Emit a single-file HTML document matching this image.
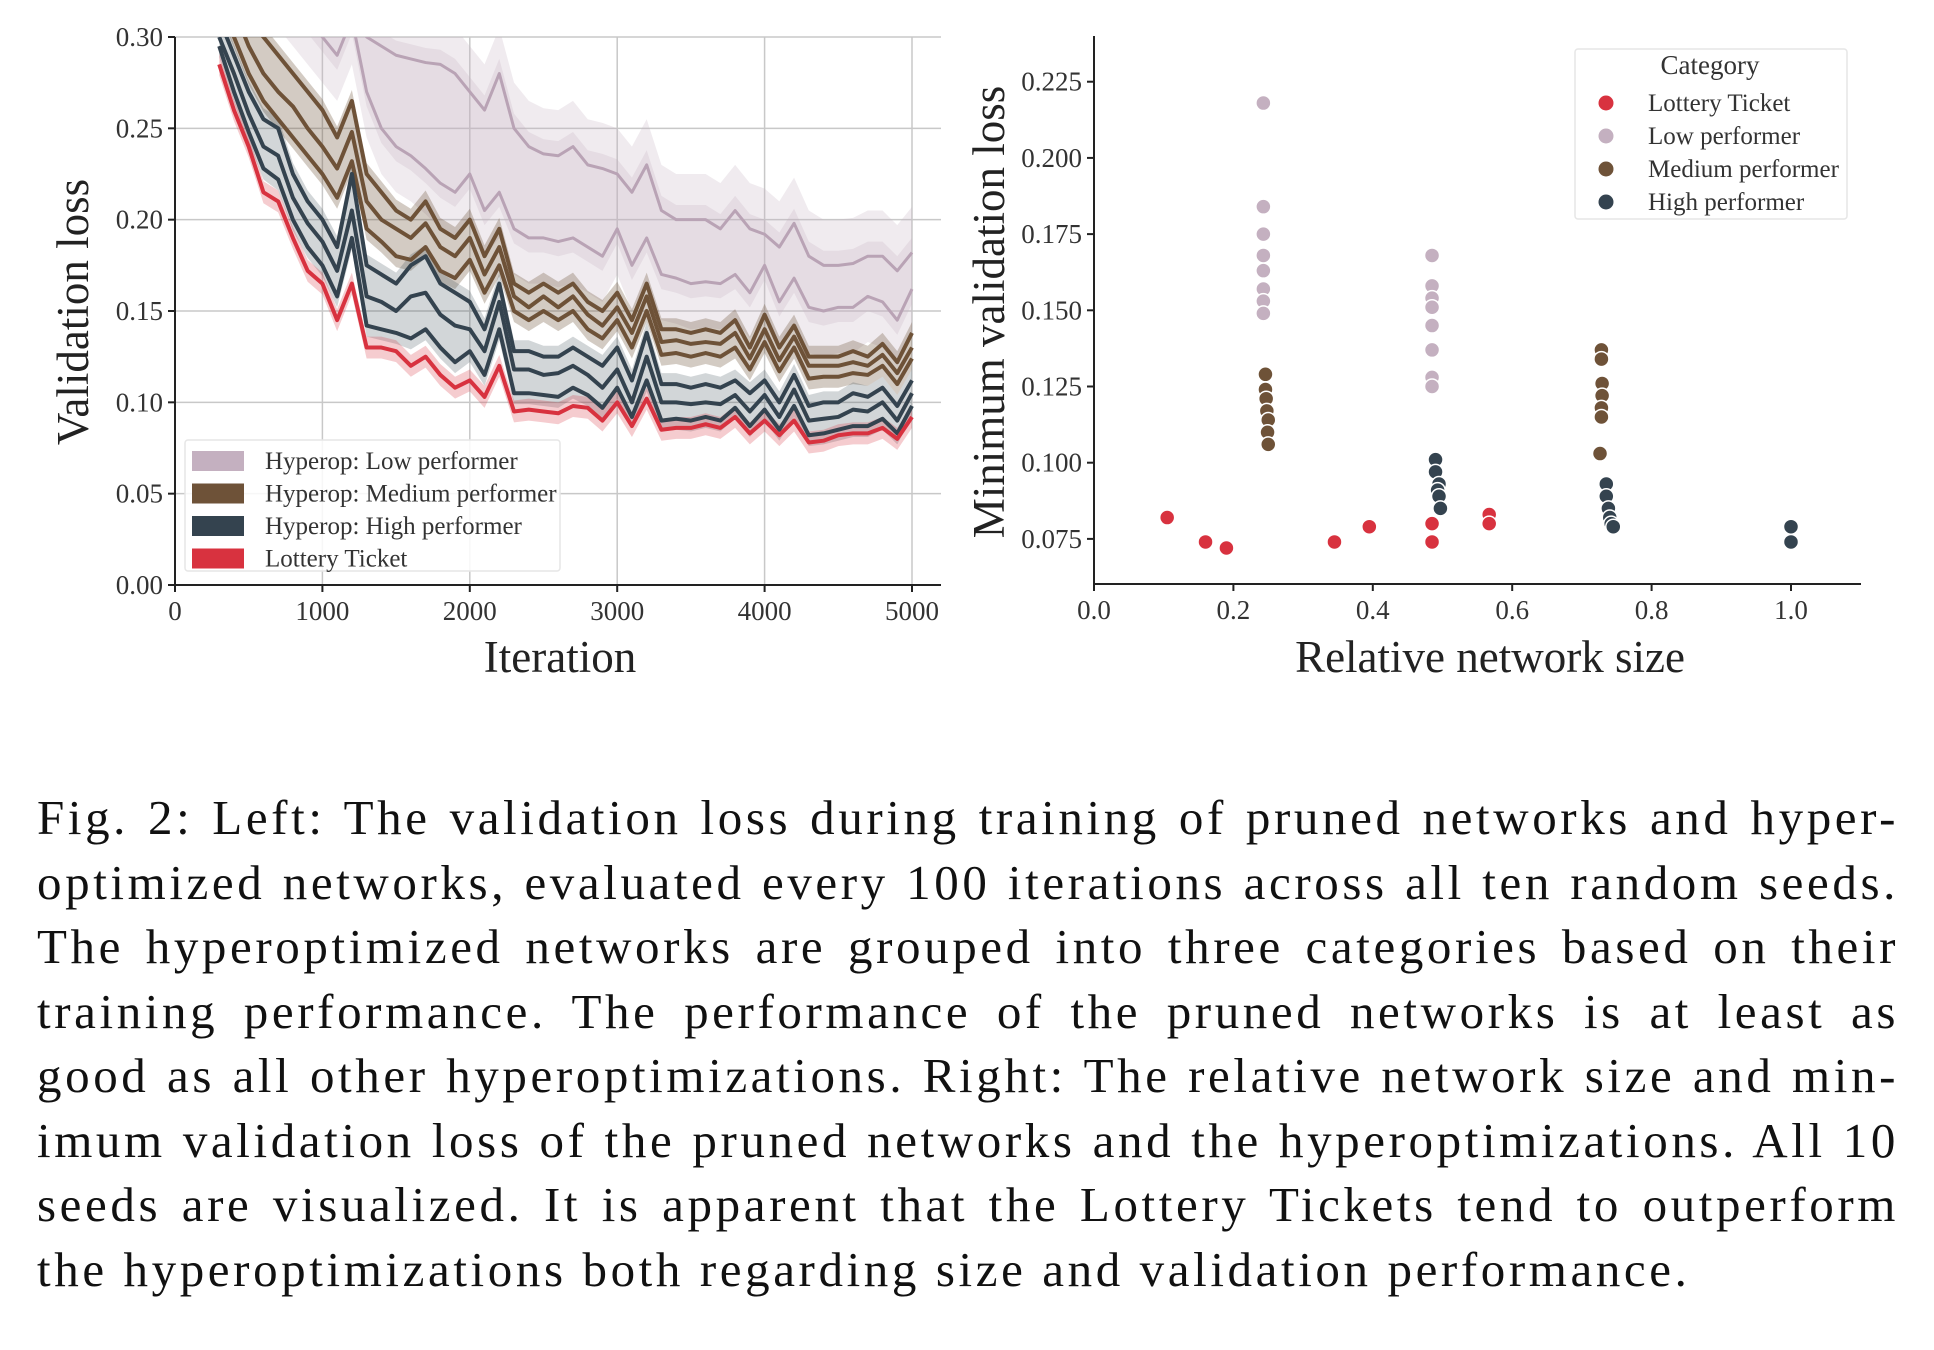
<!DOCTYPE html>
<html><head><meta charset="utf-8"><style>
html,body{margin:0;padding:0;background:#fff;}
body{width:1934px;height:1350px;position:relative;overflow:hidden;font-family:"Liberation Serif",serif;}
#cap{position:absolute;left:37px;top:786px;width:1862px;font-size:49px;line-height:64.5px;color:#111;letter-spacing:3.6px;}
#cap div{text-align:justify;text-align-last:justify;white-space:nowrap;}
#cap div.last{text-align-last:left;}
svg text{font-family:"Liberation Serif",serif;}
</style></head><body>
<svg id="chart" width="1934" height="780" style="position:absolute;left:0;top:0"></svg>
<div id="cap">
<div>Fig. 2: Left: The validation loss during training of pruned networks and hyper-</div>
<div>optimized networks, evaluated every 100 iterations across all ten random seeds.</div>
<div>The hyperoptimized networks are grouped into three categories based on their</div>
<div>training performance. The performance of the pruned networks is at least as</div>
<div>good as all other hyperoptimizations. Right: The relative network size and min-</div>
<div>imum validation loss of the pruned networks and the hyperoptimizations. All 10</div>
<div>seeds are visualized. It is apparent that the Lottery Tickets tend to outperform</div>
<div class="last">the hyperoptimizations both regarding size and validation performance.</div>
</div>
<script>
// ---- Left chart data (iterations 300..5000 step 100) ----
const iterations=[300,400,500,600,700,800,900,1000,1100,1200,1300,1400,1500,1600,1700,1800,1900,2000,2100,2200,2300,2400,2500,2600,2700,2800,2900,3000,3100,3200,3300,3400,3500,3600,3700,3800,3900,4000,4100,4200,4300,4400,4500,4600,4700,4800,4900,5000];
const lotteryLine=[.285,.26,.24,.215,.21,.19,.172,.165,.145,.165,.13,.13,.128,.12,.125,.115,.108,.112,.103,.12,.095,.096,.095,.094,.098,.097,.09,.1,.087,.102,.085,.086,.086,.088,.086,.092,.083,.09,.082,.09,.078,.079,.082,.083,.083,.086,.08,.092];
const highTop=[.31,.29,.27,.255,.25,.225,.21,.2,.185,.225,.175,.17,.165,.175,.18,.165,.16,.155,.14,.165,.128,.128,.125,.125,.13,.125,.12,.13,.112,.138,.11,.11,.108,.11,.108,.112,.105,.112,.1,.115,.098,.1,.1,.105,.103,.108,.098,.112];
const highMid=[.30,.28,.258,.24,.235,.212,.198,.188,.172,.205,.158,.155,.15,.158,.16,.148,.142,.14,.128,.155,.118,.118,.115,.116,.12,.115,.108,.118,.1,.125,.1,.1,.099,.1,.099,.104,.095,.104,.092,.107,.09,.091,.092,.096,.095,.1,.09,.105];
const highLow=[.295,.27,.248,.228,.222,.2,.185,.175,.158,.19,.142,.14,.138,.135,.14,.13,.122,.128,.115,.14,.105,.105,.104,.103,.108,.104,.097,.108,.092,.112,.09,.091,.09,.092,.09,.097,.087,.096,.085,.098,.082,.083,.085,.087,.087,.091,.083,.098];
const medTop=[.34,.33,.31,.30,.29,.28,.27,.26,.245,.265,.225,.215,.205,.2,.21,.195,.19,.2,.18,.195,.165,.16,.165,.16,.165,.155,.15,.16,.145,.165,.14,.14,.138,.14,.138,.145,.13,.148,.13,.142,.125,.125,.125,.128,.125,.132,.122,.138];
const medMid=[.33,.315,.295,.28,.27,.262,.25,.24,.228,.248,.21,.2,.195,.19,.198,.185,.18,.19,.17,.185,.158,.152,.158,.152,.158,.148,.142,.152,.138,.158,.133,.134,.132,.133,.132,.138,.124,.14,.123,.136,.12,.12,.12,.122,.12,.126,.116,.13];
const medLow=[.32,.30,.28,.265,.255,.245,.235,.225,.212,.232,.195,.188,.18,.178,.185,.172,.168,.178,.16,.175,.15,.145,.15,.145,.15,.14,.135,.145,.13,.15,.126,.127,.125,.127,.125,.13,.118,.133,.117,.13,.113,.114,.114,.116,.115,.12,.11,.124];
const lowTop=[.42,.41,.40,.39,.38,.37,.36,.35,.34,.33,.30,.295,.29,.288,.286,.285,.28,.27,.26,.28,.25,.24,.236,.235,.24,.23,.228,.225,.215,.23,.205,.2,.2,.2,.195,.205,.195,.192,.185,.198,.18,.175,.175,.176,.18,.18,.172,.182];
const lowBottom=[.40,.38,.36,.345,.33,.32,.31,.30,.29,.31,.27,.25,.24,.235,.228,.22,.215,.225,.205,.215,.195,.19,.19,.188,.19,.185,.18,.195,.175,.19,.17,.168,.165,.166,.165,.17,.16,.175,.155,.168,.152,.15,.152,.152,.158,.155,.145,.162];
const yTicksL=[0,0.05,0.10,0.15,0.20,0.25,0.30];
const yTickLabelsL=["0.00","0.05","0.10","0.15","0.20","0.25","0.30"];
const xTicksL=[0,1000,2000,3000,4000,5000];
// ---- Right chart data ----
const lotteryX=[0.105,0.16,0.19,0.345,0.395,0.485,0.485,0.567,0.567];
const lotteryY=[0.082,0.074,0.072,0.074,0.079,0.080,0.074,0.083,0.080];
const lowX=[0.243,0.243,0.243,0.243,0.243,0.243,0.243,0.243,0.485,0.485,0.485,0.485,0.485,0.485,0.485,0.485];
const lowY=[0.218,0.184,0.175,0.168,0.163,0.157,0.153,0.149,0.168,0.158,0.154,0.151,0.145,0.137,0.128,0.125];
const medX=[0.246,0.246,0.247,0.248,0.25,0.249,0.25,0.728,0.728,0.729,0.729,0.728,0.728,0.726];
const medY=[0.129,0.124,0.121,0.117,0.114,0.110,0.106,0.137,0.134,0.126,0.122,0.118,0.115,0.103];
const highX=[0.49,0.49,0.495,0.493,0.495,0.497,0.735,0.735,0.738,0.74,0.742,0.745,1.0,1.0];
const highY=[0.101,0.097,0.093,0.091,0.089,0.085,0.093,0.089,0.085,0.082,0.080,0.079,0.079,0.074];
const xTicksR=[0,0.2,0.4,0.6,0.8,1.0];
const yTicksR=[0.075,0.1,0.125,0.15,0.175,0.2,0.225];

const C={red:"#d8323f",low:"#c4b0c0",med:"#6e5238",high:"#34434f"};
const NS="http://www.w3.org/2000/svg";
const svg=document.getElementById('chart');
function mk(tag,attrs,parent){const e=document.createElementNS(NS,tag);for(const k in attrs)e.setAttribute(k,attrs[k]);(parent||svg).appendChild(e);return e;}
const TF=27;

const L={x0:175,x1:912,y0:585,y1:37};
const xL=v=>L.x0+(v/5000)*(L.x1-L.x0);
const yL=v=>L.y0-(v/0.30)*(L.y0-L.y1);
const defs=mk('defs',{});
const cp=mk('clipPath',{id:'clipL'},defs);
mk('rect',{x:L.x0,y:L.y1,width:941-L.x0,height:L.y0-L.y1},cp);

const gGrid=mk('g',{});


yTicksL.forEach(t=>{mk('line',{x1:L.x0,x2:941,y1:yL(t),y2:yL(t),stroke:'#c8c8c8','stroke-width':1.5},gGrid);});
xTicksL.forEach(t=>{mk('line',{x1:xL(t),x2:xL(t),y1:L.y1,y2:L.y0,stroke:'#c8c8c8','stroke-width':1.5},gGrid);});

const gPlot=mk('g',{'clip-path':'url(#clipL)'});
function band(lo,hi,color,op,name,pad){
  let d='';
  iterations.forEach((it,i)=>{d+=(i?'L':'M')+xL(it)+','+yL(hi[i]+pad);});
  for(let i=iterations.length-1;i>=0;i--)d+='L'+xL(iterations[i])+','+yL(lo[i]-pad);
  const p=mk('path',{d:d+'Z',fill:color,'fill-opacity':op},gPlot);
  
  
}
function line(arr,color,w,name){
  const d=iterations.map((it,i)=>(i?'L':'M')+xL(it)+','+yL(arr[i])).join('');
  const p=mk('path',{d:d,fill:'none',stroke:color,'stroke-width':w,'stroke-linejoin':'round'},gPlot);
  
  
}
band(lowBottom,lowTop,C.low,0.25,'low-performer-band',0.025);
band(lowBottom,lowTop,C.low,0.25,'low-performer-band-inner',0.008);
band(medLow,medTop,C.med,0.3,'medium-performer-band',0.006);
band(highLow,highTop,C.high,0.22,'high-performer-band',0.006);
band(lotteryLine,lotteryLine,C.red,0.25,'lottery-ticket-band',0.006);
line(lowTop,'#b9a3b5',3,'low-performer-line-top');
line(lowBottom,'#b9a3b5',3,'low-performer-line-bottom');
line(medTop,C.med,4,'medium-performer-line-top');
line(medMid,C.med,4,'medium-performer-line-mid');
line(medLow,C.med,4,'medium-performer-line-bottom');
line(highTop,C.high,4,'high-performer-line-top');
line(highMid,C.high,4,'high-performer-line-mid');
line(highLow,C.high,4,'high-performer-line-bottom');
line(lotteryLine,C.red,4,'lottery-ticket-line');

mk('line',{x1:L.x0,x2:L.x0,y1:L.y1,y2:L.y0,stroke:'#222','stroke-width':2});
mk('line',{x1:L.x0,x2:941,y1:L.y0,y2:L.y0,stroke:'#222','stroke-width':2});
yTicksL.forEach((t,i)=>{
  mk('line',{x1:L.x0-7,x2:L.x0,y1:yL(t),y2:yL(t),stroke:'#222','stroke-width':2});
  const tx=mk('text',{x:L.x0-12,y:yL(t)+9,'text-anchor':'end','font-size':TF,fill:'#333'});
  tx.textContent=yTickLabelsL[i];
  
  
});
xTicksL.forEach(t=>{
  mk('line',{x1:xL(t),x2:xL(t),y1:L.y0,y2:L.y0+7,stroke:'#222','stroke-width':2});
  const tx=mk('text',{x:xL(t),y:L.y0+35,'text-anchor':'middle','font-size':TF,fill:'#333'});
  tx.textContent=String(t);
  
  
});
let t1=mk('text',{x:560,y:672,'text-anchor':'middle','font-size':45,fill:'#222'});t1.textContent='Iteration';

let t2=mk('text',{x:0,y:0,'text-anchor':'middle','font-size':45,fill:'#222',transform:'translate(88,312) rotate(-90)'});t2.textContent='Validation loss';


const lg=mk('g',{});


mk('rect',{x:185,y:440,width:375,height:131,fill:'#fff','fill-opacity':0.85,stroke:'#e6e6e6','stroke-width':1.5,rx:3},lg);
[['Hyperop: Low performer',C.low],['Hyperop: Medium performer',C.med],['Hyperop: High performer',C.high],['Lottery Ticket',C.red]].forEach((e,i)=>{
  const y=451+i*32.5;
  mk('rect',{x:192,y:y,width:52,height:20,fill:e[1]},lg);
  const tx=mk('text',{x:265,y:y+18,'font-size':25,fill:'#333'},lg);tx.textContent=e[0];
  
  
});

const R={x0:1094,x1:1791,xr:1861,y0:584,y1:36,vmin:0.0602,vmax:0.2400};
const xR=v=>R.x0+v*(R.x1-R.x0);
const yR=v=>R.y0-(v-R.vmin)/(R.vmax-R.vmin)*(R.y0-R.y1);
mk('line',{x1:R.x0,x2:R.x0,y1:R.y1,y2:R.y0,stroke:'#222','stroke-width':2});
mk('line',{x1:R.x0,x2:R.xr,y1:R.y0,y2:R.y0,stroke:'#222','stroke-width':2});
yTicksR.forEach(t=>{
  mk('line',{x1:R.x0-7,x2:R.x0,y1:yR(t),y2:yR(t),stroke:'#222','stroke-width':2});
  const tx=mk('text',{x:R.x0-12,y:yR(t)+9,'text-anchor':'end','font-size':TF,fill:'#333'});
  tx.textContent=t.toFixed(3);
  
  
});
xTicksR.forEach(t=>{
  mk('line',{x1:xR(t),x2:xR(t),y1:R.y0,y2:R.y0+7,stroke:'#222','stroke-width':2});
  const tx=mk('text',{x:xR(t),y:R.y0+35,'text-anchor':'middle','font-size':TF,fill:'#333'});
  tx.textContent=t.toFixed(1);
  
  
});
let t3=mk('text',{x:1490,y:672,'text-anchor':'middle','font-size':45,fill:'#222'});t3.textContent='Relative network size';

let t4=mk('text',{x:0,y:0,'text-anchor':'middle','font-size':45,fill:'#222',transform:'translate(1004,312) rotate(-90)'});t4.textContent='Minimum validation loss';


function dots(xs,ys,color,name){
  xs.forEach((x,i)=>{
    const c=mk('circle',{cx:xR(x),cy:yR(ys[i]),r:7.5,fill:color,stroke:'#fff','stroke-width':1.5});
    
    
  });
}
dots(lowX,lowY,C.low,'low-performer-point');
dots(medX,medY,C.med,'medium-performer-point');
dots(highX,highY,C.high,'high-performer-point');
dots(lotteryX,lotteryY,C.red,'lottery-ticket-point');

const rg=mk('g',{});


mk('rect',{x:1575,y:49,width:272,height:170,fill:'#fff','fill-opacity':0.85,stroke:'#e6e6e6','stroke-width':1.5,rx:3},rg);
const lt=mk('text',{x:1710,y:74,'text-anchor':'middle','font-size':27,fill:'#333'},rg);lt.textContent='Category';
[['Lottery Ticket',C.red],['Low performer',C.low],['Medium performer',C.med],['High performer',C.high]].forEach((e,i)=>{
  const y=103+i*33;
  mk('circle',{cx:1606,cy:y,r:7.5,fill:e[1]},rg);
  const tx=mk('text',{x:1648,y:y+8,'font-size':25,fill:'#333'},rg);tx.textContent=e[0];
  
  
});
</script>
</body></html>
